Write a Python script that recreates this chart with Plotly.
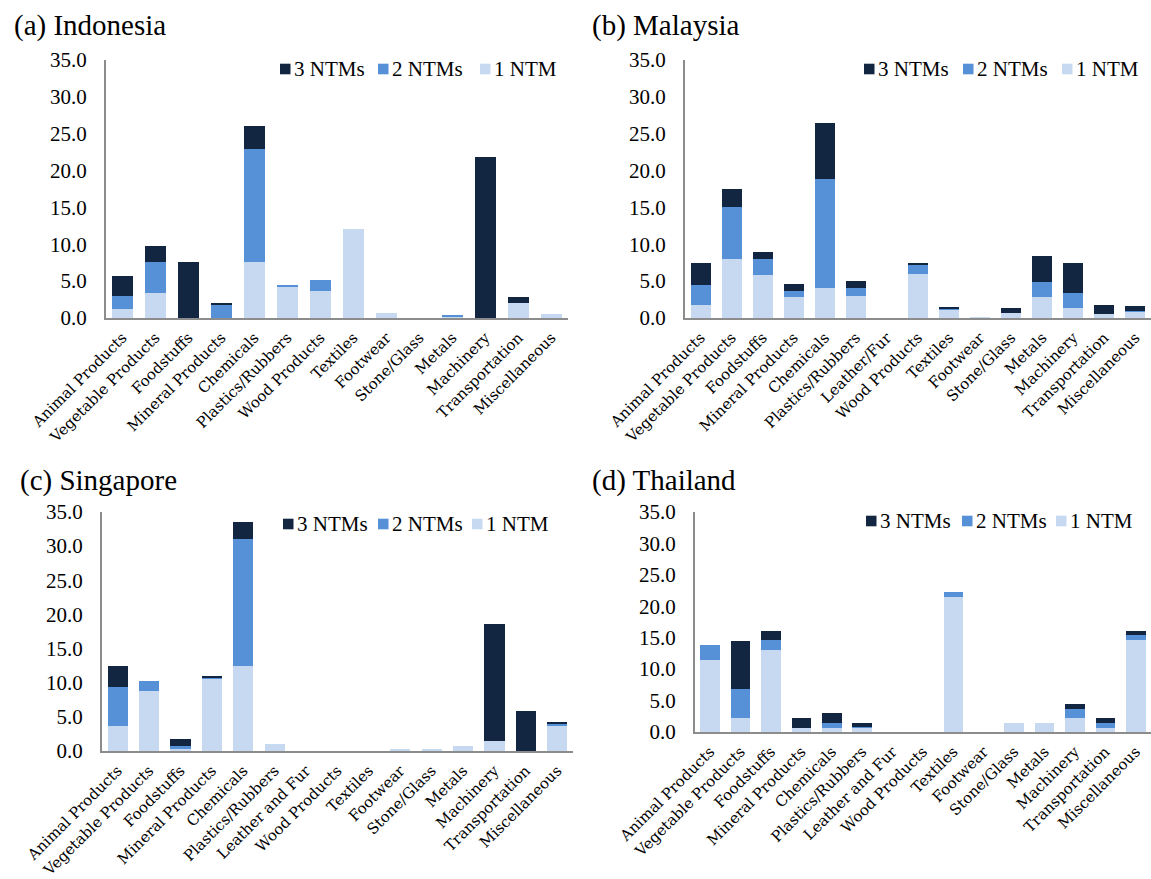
import plotly.graph_objects as go

# Product groups per country
cats_id = ["Animal Products", "Vegetable Products", "Foodstuffs", "Mineral Products",
           "Chemicals", "Plastics/Rubbers", "Wood Products", "Textiles", "Footwear",
           "Stone/Glass", "Metals", "Machinery", "Transportation", "Miscellaneous"]
cats_my = ["Animal Products", "Vegetable Products", "Foodstuffs", "Mineral Products",
           "Chemicals", "Plastics/Rubbers", "Leather/Fur", "Wood Products", "Textiles",
           "Footwear", "Stone/Glass", "Metals", "Machinery", "Transportation", "Miscellaneous"]
cats_sg = ["Animal Products", "Vegetable Products", "Foodstuffs", "Mineral Products",
           "Chemicals", "Plastics/Rubbers", "Leather and Fur", "Wood Products", "Textiles",
           "Footwear", "Stone/Glass", "Metals", "Machinery", "Transportation", "Miscellaneous"]
cats_th = cats_sg

# Shares (%) of products facing 1, 2 and 3 NTMs
id_1 = [1.2, 3.4, 0.0, 0.0, 7.6, 4.3, 3.7, 12.1, 0.7, 0.0, 0.1, 0.0, 2.0, 0.5]
id_2 = [1.8, 4.2, 0.0, 1.8, 15.3, 0.2, 1.4, 0.0, 0.0, 0.0, 0.3, 0.0, 0.0, 0.0]
id_3 = [2.7, 2.2, 7.6, 0.2, 3.1, 0.0, 0.0, 0.0, 0.0, 0.0, 0.0, 21.9, 0.9, 0.0]

my_1 = [1.8, 8.0, 5.8, 2.9, 4.1, 3.0, 0.0, 6.0, 1.15, 0.1, 0.7, 2.9, 1.4, 0.5, 0.85]
my_2 = [2.7, 7.0, 2.2, 0.8, 14.8, 1.1, 0.0, 1.3, 0.1, 0.0, 0.0, 2.0, 2.0, 0.0, 0.1]
my_3 = [2.9, 2.5, 0.9, 0.9, 7.5, 0.9, 0.0, 0.15, 0.15, 0.0, 0.7, 3.5, 4.0, 1.3, 0.65]

sg_1 = [3.6, 8.8, 0.35, 10.6, 12.4, 1.0, 0.0, 0.0, 0.0, 0.3, 0.3, 0.7, 1.4, 0.0, 3.6]
sg_2 = [5.8, 1.4, 0.4, 0.1, 18.6, 0.0, 0.0, 0.0, 0.0, 0.0, 0.0, 0.0, 0.0, 0.0, 0.35]
sg_3 = [3.0, 0.0, 1.0, 0.3, 2.6, 0.0, 0.0, 0.0, 0.0, 0.0, 0.0, 0.0, 17.2, 5.8, 0.35]

th_1 = [11.5, 2.2, 13.0, 0.65, 0.65, 0.65, 0.0, 0.0, 21.5, 0.0, 1.4, 1.4, 2.2, 0.65, 14.6]
th_2 = [2.3, 4.6, 1.6, 0.0, 0.8, 0.1, 0.0, 0.0, 0.8, 0.0, 0.0, 0.0, 1.5, 0.8, 0.8]
th_3 = [0.0, 7.7, 1.5, 1.5, 1.5, 0.7, 0.0, 0.0, 0.0, 0.0, 0.0, 0.0, 0.75, 0.75, 0.7]

series_names = ["1 NTM", "2 NTMs", "3 NTMs"]
y_ticks = [0, 5, 10, 15, 20, 25, 30, 35]
y_tick_text = ["0.0", "5.0", "10.0", "15.0", "20.0", "25.0", "30.0", "35.0"]

COLORS = ["#C6D9F1", "#5690D6", "#132641"]  # 1, 2, 3 NTMs
W, H = 1151, 879
SERIF = "Liberation Serif, Times New Roman, serif"

panels = [
    # title, cats, series, x-domain px, y-domain px, title pos,
    # legend key lefts px (3, 2, 1 NTMs) and legend row middle px
    ("(a) Indonesia", cats_id, (id_1, id_2, id_3), (106, 568), (60, 318), (12, 26),
     (280, 378, 480), 69),
    ("(b) Malaysia", cats_my, (my_1, my_2, my_3), (685, 1151), (60, 318), (590, 26),
     (864, 963, 1062), 69),
    ("(c) Singapore", cats_sg, (sg_1, sg_2, sg_3), (102, 573), (512, 751), (18, 481),
     (283, 378, 472), 524),
    ("(d) Thailand", cats_th, (th_1, th_2, th_3), (695, 1151), (512, 732), (590, 480),
     (866, 962, 1056), 521),
]

fig = go.Figure()
layout = dict(
    width=W, height=H, margin=dict(l=0, r=0, t=0, b=0, autoexpand=False),
    paper_bgcolor="white", plot_bgcolor="white", showlegend=False,
    barmode="stack", bargap=0.355, annotations=[], shapes=[],
)


def px_x(v):
    return v / W


def px_y(v):
    return 1 - v / H


for i, (title, cats, series, xd, yd, tpos, keys, key_mid) in enumerate(panels):
    n = "" if i == 0 else str(i + 1)
    for name, vals, col in zip(series_names, series, COLORS):
        fig.add_trace(go.Bar(
            x=cats, y=vals, name=name, marker=dict(color=col, line=dict(width=0)),
            xaxis=f"x{n}", yaxis=f"y{n}",
        ))
    layout[f"xaxis{n}"] = dict(
        domain=[px_x(xd[0]), px_x(xd[1])], anchor=f"y{n}", automargin=False,
        type="category", tickangle=-45, showgrid=False, ticks="",
        showline=True, linecolor="#8C8C8C", linewidth=2, ticklabelstandoff=3,
        tickfont=dict(family="DejaVu Serif", size=15, color="black"),
    )
    layout[f"yaxis{n}"] = dict(
        domain=[px_y(yd[1]), px_y(yd[0])], anchor=f"x{n}", automargin=False,
        range=[0, 35], tickvals=y_ticks, ticktext=y_tick_text,
        showgrid=False, zeroline=False, ticks="",
        showline=True, linecolor="#8C8C8C", linewidth=2, ticklabelstandoff=13,
        tickfont=dict(family=SERIF, size=21, color="black"),
    )
    # panel title
    layout["annotations"].append(dict(
        text=title, x=px_x(tpos[0]), y=px_y(tpos[1]), xref="paper", yref="paper",
        xanchor="left", yanchor="middle", showarrow=False,
        font=dict(family=SERIF, size=29, color="black"),
    ))
    # key row: 3 NTMs, 2 NTMs, 1 NTM
    for left, name, col in zip(keys, series_names[::-1], COLORS[::-1]):
        layout["shapes"].append(dict(
            type="rect", xref="paper", yref="paper",
            x0=px_x(left), x1=px_x(left + 10.5),
            y0=px_y(key_mid + 5.3), y1=px_y(key_mid - 5.3),
            fillcolor=col, line=dict(width=0),
        ))
        layout["annotations"].append(dict(
            text=name, x=px_x(left + 12), y=px_y(key_mid), xref="paper", yref="paper",
            xanchor="left", yanchor="middle", showarrow=False,
            font=dict(family=SERIF, size=21, color="black"),
        ))

fig.update_layout(**layout)
fig.write_html("out.html")
